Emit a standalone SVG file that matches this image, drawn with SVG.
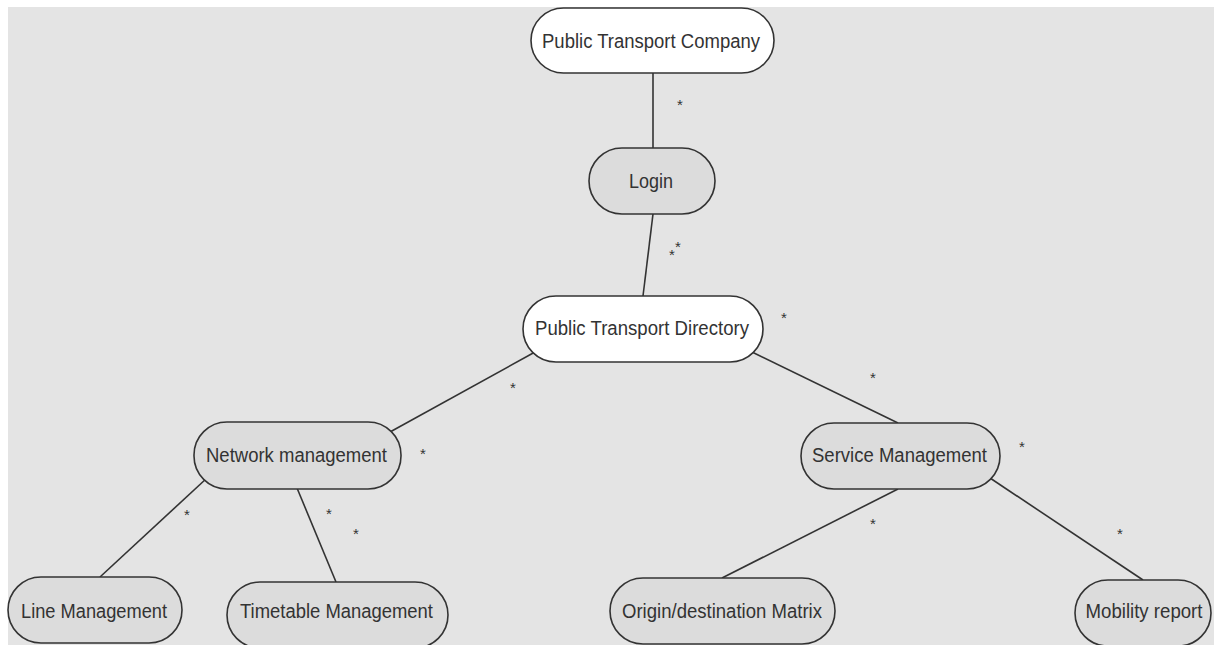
<svg xmlns="http://www.w3.org/2000/svg" width="1214" height="645" viewBox="0 0 1214 645">
  <style>
    .node { stroke: #333; stroke-width: 1.6; }
    .white { fill: #ffffff; }
    .grey { fill: #dcdcdc; }
    .label { font-family: "Liberation Sans", Arial, sans-serif; font-size: 20px; fill: #333; text-anchor: middle; }
    .edge { stroke: #333; stroke-width: 1.6; fill: none; }
    .mult { font-family: "Liberation Sans", Arial, sans-serif; font-size: 15px; fill: #333; text-anchor: middle; }
  </style>
  <rect x="0" y="0" width="1214" height="645" fill="#ffffff"/>
  <rect x="8" y="7" width="1206" height="638" fill="#e4e4e4"/>

  <!-- associations with their multiplicity marks -->
  <g id="connectors">
    <line class="edge" x1="653" y1="73" x2="653" y2="148"/>
    <line class="edge" x1="653" y1="214" x2="643" y2="296"/>
    <line class="edge" x1="535" y1="352" x2="390" y2="432"/>
    <line class="edge" x1="752" y1="352" x2="898" y2="423"/>
    <line class="edge" x1="207" y1="478" x2="100" y2="577"/>
    <line class="edge" x1="297" y1="488" x2="336" y2="582"/>
    <line class="edge" x1="898" y1="489" x2="722" y2="578"/>
    <line class="edge" x1="990" y1="478" x2="1143" y2="580"/>
    <text class="mult" x="680" y="110">*</text>
    <text class="mult" x="672" y="260">*</text>
    <text class="mult" x="678" y="252">*</text>
    <text class="mult" x="784" y="323">*</text>
    <text class="mult" x="513" y="393">*</text>
    <text class="mult" x="873" y="383">*</text>
    <text class="mult" x="423" y="459">*</text>
    <text class="mult" x="1022" y="452">*</text>
    <text class="mult" x="187" y="520">*</text>
    <text class="mult" x="329" y="519">*</text>
    <text class="mult" x="356" y="539">*</text>
    <text class="mult" x="131" y="596">*</text>
    <text class="mult" x="873" y="529">*</text>
    <text class="mult" x="1120" y="539">*</text>
    <text class="mult" x="757" y="597">*</text>
  </g>

  <g id="company">
    <rect class="node white" x="531" y="8" width="243" height="65" rx="32.5"/>
    <text class="label" x="651" y="48" textLength="218" lengthAdjust="spacingAndGlyphs">Public Transport Company</text>
  </g>
  <g id="login">
    <rect class="node grey" x="589" y="148" width="126" height="66" rx="33"/>
    <text class="label" x="651" y="188" textLength="44" lengthAdjust="spacingAndGlyphs">Login</text>
  </g>
  <g id="directory">
    <rect class="node white" x="523" y="296" width="240" height="66" rx="33"/>
    <text class="label" x="642" y="335" textLength="214" lengthAdjust="spacingAndGlyphs">Public Transport Directory</text>
  </g>
  <g id="network">
    <rect class="node grey" x="194" y="422" width="207" height="67" rx="33"/>
    <text class="label" x="296.5" y="462" textLength="181" lengthAdjust="spacingAndGlyphs">Network management</text>
  </g>
  <g id="service">
    <rect class="node grey" x="801" y="423" width="199" height="66" rx="33"/>
    <text class="label" x="899.5" y="462" textLength="175" lengthAdjust="spacingAndGlyphs">Service Management</text>
  </g>
  <g id="line">
    <rect class="node grey" x="8" y="577" width="174" height="66" rx="33"/>
    <text class="label" x="94" y="618" textLength="146" lengthAdjust="spacingAndGlyphs">Line Management</text>
  </g>
  <g id="timetable">
    <rect class="node grey" x="227" y="582" width="221" height="66" rx="33"/>
    <text class="label" x="336.5" y="618" textLength="193" lengthAdjust="spacingAndGlyphs">Timetable Management</text>
  </g>
  <g id="od-matrix">
    <rect class="node grey" x="610" y="578" width="225" height="66" rx="33"/>
    <text class="label" x="722" y="618" textLength="200" lengthAdjust="spacingAndGlyphs">Origin/destination Matrix</text>
  </g>
  <g id="mobility">
    <rect class="node grey" x="1075" y="580" width="136" height="66" rx="33"/>
    <text class="label" x="1144" y="618" textLength="117" lengthAdjust="spacingAndGlyphs">Mobility report</text>
  </g>
</svg>
